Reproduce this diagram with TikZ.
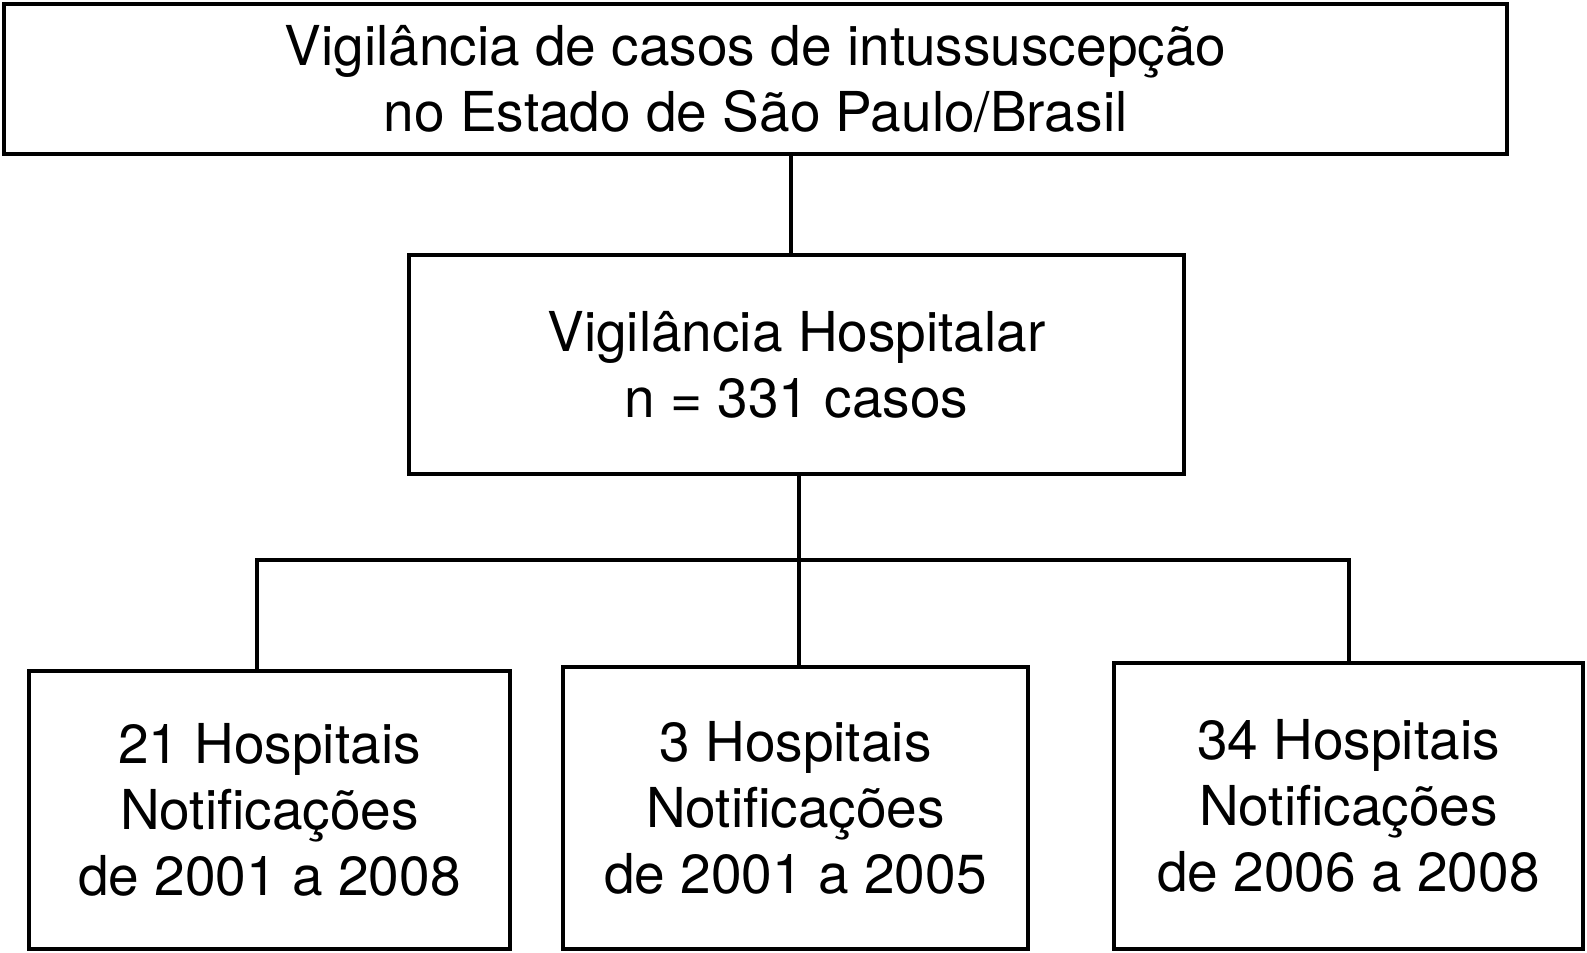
\documentclass[tikz,border=0pt]{standalone}
\usepackage{fontspec}
\setmainfont{TeX Gyre Heros}
\usetikzlibrary{positioning,calc}

\begin{document}
\begin{tikzpicture}[x=0.5pt,y=-0.5pt,line width=2pt,
    every node/.style={font=\fontsize{27.5}{33}\selectfont},
    box/.style={draw,align=center,inner sep=0pt}]
  \useasboundingbox (0,0) rectangle (1587,953);
  % top level
  \node[box,minimum width=751.5pt,minimum height=75pt] (vig) at (755.5,79)
    {Vigilância de casos de intussuscepção\\no Estado de São Paulo/Brasil};
  \node[box,minimum width=387.5pt,minimum height=109.5pt] (hosp) at (796.5,364.5)
    {Vigilância Hospitalar\\n = 331 casos};
  % hospital groups
  \foreach \n/\x/\y/\w/\h/\t in {
      h21/269.5/810/240.5/139/{21 Hospitais\\Notificações\\de 2001 a 2008},
      h3/795.5/808/232.5/141/{3 Hospitais\\Notificações\\de 2001 a 2005},
      h34/1348.5/806/234.5/143/{34 Hospitais\\Notificações\\de 2006 a 2008}}{
    \node[box,minimum width=\w pt,minimum height=\h pt] (\n) at (\x,\y) {\t};
  }
  \coordinate (split) at (799,560);
  \draw ([xshift=-3pt]hosp.north) -- ([xshift=-3pt]hosp.north |- vig.south);
  \draw (hosp.south -| split) -- (split);
  \draw ([xshift=-6.5pt]h21.north) |- (split) -| (h34.north);
  \draw (split) -- (split |- h3.north);
\end{tikzpicture}
\end{document}
